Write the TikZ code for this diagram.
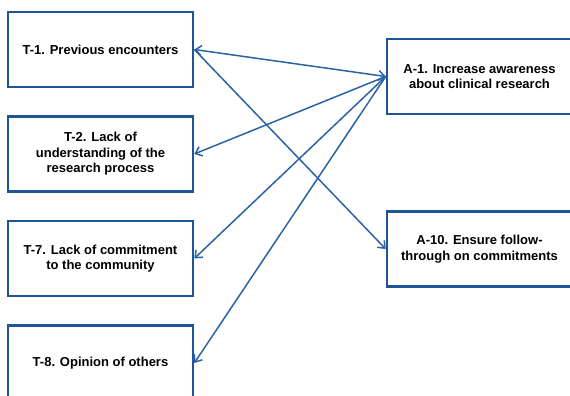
\documentclass[tikz,border=0pt]{standalone}
\usepackage{fontspec}
\setmainfont{Liberation Sans}
\usetikzlibrary{arrows.meta}
\definecolor{boxblue}{HTML}{1F5597}
\definecolor{lineblue}{HTML}{2A62A6}
\begin{document}
\begin{tikzpicture}[x=1pt,y=-1pt,
  box/.style={draw=boxblue,line width=2.6pt,minimum width=185pt,minimum height=75pt,
    align=center,inner sep=2pt,font=\fontsize{13}{15.5}\selectfont\bfseries},
  conn/.style={draw=lineblue,line width=1.5pt}]
\useasboundingbox (0,0) rectangle (570,396);
\node[box] (t1) at (100.5,49.5) {T-1. Previous encounters};
\node[box] (t2) at (100.5,154) {T-2. Lack of\\understanding of the\\research process};
\node[box] (t7) at (100.5,258.5) {T-7. Lack of commitment\\to the community};
\node[box] (t8) at (100.5,363) {T-8. Opinion of others};
\node[box] (a1) at (479.5,76.5) {A-1. Increase awareness\\about clinical research};
\node[box] (a10) at (479.5,249) {A-10. Ensure follow-\\through on commitments};
\draw[conn,{Straight Barb[length=6pt,width=10pt]}-{Straight Barb[length=6pt,width=10pt]}] (t1.east) -- (a1.west);
\draw[conn,-{Straight Barb[length=6pt,width=10pt]}] (a1.west) -- (t2.east);
\draw[conn,-{Straight Barb[length=6pt,width=10pt]}] (a1.west) -- (t7.east);
\draw[conn,-{Straight Barb[length=6pt,width=10pt]}] (a1.west) -- (t8.east);
\draw[conn,-{Straight Barb[length=6pt,width=10pt]}] (t1.east) -- (a10.west);
\end{tikzpicture}
\end{document}
